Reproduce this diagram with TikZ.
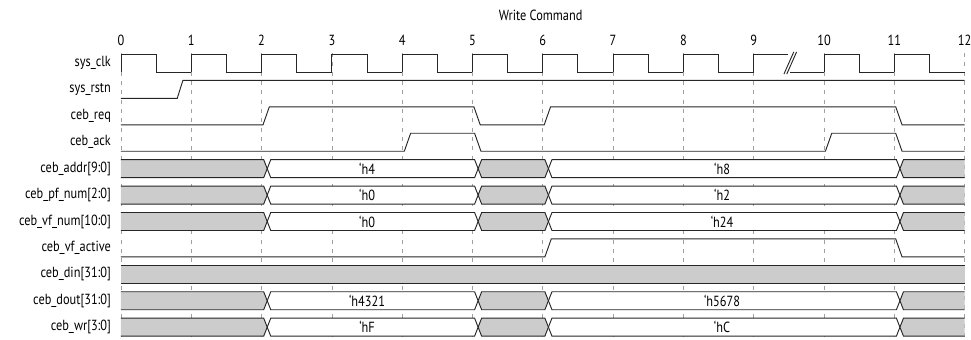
\documentclass[tikz,border=0pt]{standalone}
\usepackage{fontspec}
\setmainfont{PT Sans}[FakeStretch=0.84]
\definecolor{busgray}{HTML}{CCCCCC}
\definecolor{gridgray}{HTML}{A0A0A0}
\definecolor{wavecol}{HTML}{262626}
\tikzset{
    wave/.style={draw=wavecol,line width=0.7pt,line join=miter},
    gridline/.style={draw=gridgray,line width=0.5pt,dash pattern=on 3pt off 4pt},
    signame/.style={anchor=east,inner sep=0pt},
    busval/.style={inner sep=0pt},
}
\begin{document}
\begin{tikzpicture}[x=52.7pt,y=19.8pt,font=\fontsize{11}{13}\selectfont]
    \useasboundingbox (-1.721,2.386) rectangle (12.091,-10.455);

    % cycle grid
    \foreach \t in {0,...,12} {
        \draw[gridline] (\t,0.38) -- (\t,-10.455);
        \node (num\t) at (\t,0.87) {\t};
    }
    \node (title) at (5.97,1.82) {Write Command};

    \foreach \i/\name in {0/sys\_clk,1/sys\_rstn,2/ceb\_req,3/ceb\_ack,4/ceb\_addr[9:0],
        5/ceb\_pf\_num[2:0],6/ceb\_vf\_num[10:0],7/ceb\_vf\_active,8/ceb\_din[31:0],
        9/ceb\_dout[31:0],10/ceb\_wr[3:0]}
        \node[signame] (sig\i) at (-0.14,-\i) {\name};

    % sys_clk
    \foreach \k in {0,1,2,3,4,5,6,7,8,10,11}
        \draw[wave] (\k,-0.34) -- (\k,0.34) -- (\k+0.5,0.34) -- (\k+0.5,-0.34) -- (\k+1,-0.34);
    \draw[wave] (9,-0.34) -- (9,0.34) -- (9.49,0.34);
    \draw[wave] (9.52,-0.34) -- (10,-0.34);
    \draw[wave] (9.43,-0.42) -- (9.57,0.42);
    \draw[wave] (9.47,-0.42) -- (9.61,0.42);

    % single bit signals
    \draw[wave] (0,-1.34) -- (0.8,-1.34) -- (0.88,-0.66) -- (12,-0.66);
    \draw[wave] (0,-2.34) -- (2.02,-2.34) -- (2.11,-1.66) -- (5.02,-1.66) -- (5.11,-2.34)
        -- (6.02,-2.34) -- (6.11,-1.66) -- (11.02,-1.66) -- (11.11,-2.34) -- (12,-2.34);
    \draw[wave] (0,-3.34) -- (4.03,-3.34) -- (4.12,-2.66) -- (5.03,-2.66) -- (5.12,-3.34)
        -- (10.02,-3.34) -- (10.11,-2.66) -- (11.02,-2.66) -- (11.11,-3.34) -- (12,-3.34);
    \draw[wave] (0,-7.34) -- (6.03,-7.34) -- (6.12,-6.66) -- (11.02,-6.66) -- (11.11,-7.34) -- (12,-7.34);

    % ceb_din
    \fill[busgray] (0,-7.66) rectangle (12,-8.34);
    \draw[wave] (0,-7.66) -- (12,-7.66);
    \draw[wave] (0,-8.34) -- (12,-8.34);

    % buses
    \foreach \r/\va/\vb in {4/h4/h8,5/h0/h2,6/h0/h24,9/h4321/h5678,10/hF/hC} {
        \pgfmathsetmacro\yt{-\r+0.34}
        \pgfmathsetmacro\ym{-\r}
        \pgfmathsetmacro\yb{-\r-0.34}
        \fill[busgray] (0,\yt) -- (2.03,\yt) -- (2.08,\ym) -- (2.03,\yb) -- (0,\yb) -- cycle;
        \draw[wave] (0,\yt) -- (2.03,\yt) -- (2.08,\ym) -- (2.03,\yb) -- (0,\yb);
        \draw[wave,fill=white] (2.08,\ym) -- (2.13,\yt) -- (5.03,\yt) -- (5.08,\ym) -- (5.03,\yb) -- (2.13,\yb) -- cycle;
        \draw[wave,fill=busgray] (5.08,\ym) -- (5.13,\yt) -- (6.03,\yt) -- (6.08,\ym) -- (6.03,\yb) -- (5.13,\yb) -- cycle;
        \draw[wave,fill=white] (6.08,\ym) -- (6.13,\yt) -- (11.03,\yt) -- (11.08,\ym) -- (11.03,\yb) -- (6.13,\yb) -- cycle;
        \fill[busgray] (11.08,\ym) -- (11.13,\yt) -- (12,\yt) -- (12,\yb) -- (11.13,\yb) -- cycle;
        \draw[wave] (12,\yt) -- (11.13,\yt) -- (11.08,\ym) -- (11.13,\yb) -- (12,\yb);
        \node[busval] (va\r) at (3.5,\ym) {‘\va};
        \node[busval] (vb\r) at (8.55,\ym) {‘\vb};
    }
\end{tikzpicture}
\end{document}
